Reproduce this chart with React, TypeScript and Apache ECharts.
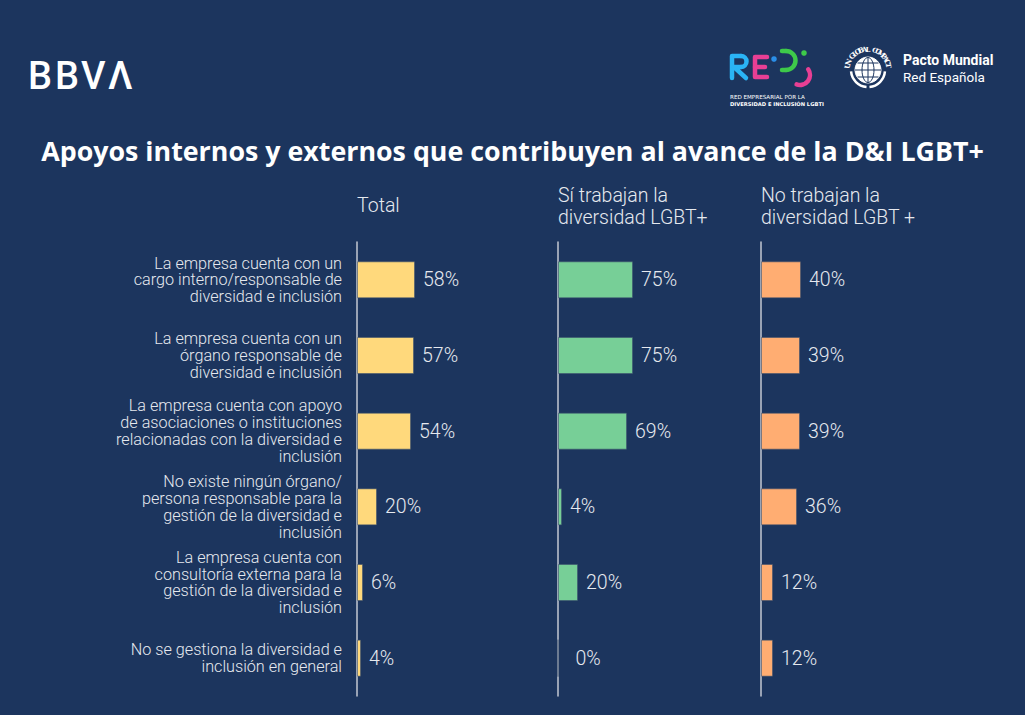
import React, { useEffect, useRef } from "react";
import * as echarts from "echarts";

const categories = [
  "La empresa cuenta con un\ncargo interno/responsable de\ndiversidad e inclusión",
  "La empresa cuenta con un\nórgano responsable de\ndiversidad e inclusión",
  "La empresa cuenta con apoyo\nde asociaciones o instituciones\nrelacionadas con la diversidad e\ninclusión",
  "No existe ningún órgano/\npersona responsable para la\ngestión de la diversidad e\ninclusión",
  "La empresa cuenta con\nconsultoría externa para la\ngestión de la diversidad e\ninclusión",
  "No se gestiona la diversidad e\ninclusión en general",
];
const totalValues = [58, 57, 54, 20, 6, 4];
const siValues = [75, 75, 69, 4, 20, 0];
const noValues = [40, 39, 39, 36, 12, 12];
const groupHeaders = ["Total", "Sí trabajan la\ndiversidad LGBT+", "No trabajan la\ndiversidad LGBT +"];
const chartTitle = "Apoyos internos y externos que contribuyen al avance de la D&I LGBT+";

const BG = "#1c355e";
const TEXT = "#e6e9ef";
const groupColors = ["#ffd97c", "#77cf97", "#ffad72"];
const groupLefts = [357, 558, 761];
const groupValues = [totalValues, siValues, noValues];
const FONT = "Roboto";

function unLogo() {
  const cx = 868;
  const cy = 70;
  const els: any[] = [];
  const txt = "UN GLOBAL COMPACT";
  const R = 21;
  const a0 = (-168 * Math.PI) / 180;
  const a1 = (-12 * Math.PI) / 180;
  for (let i = 0; i < txt.length; i++) {
    const ch = txt[i];
    if (ch === " ") continue;
    const t = a0 + ((a1 - a0) * i) / (txt.length - 1);
    els.push({
      type: "text",
      x: cx + R * Math.cos(t),
      y: cy + R * Math.sin(t),
      rotation: -(t + Math.PI / 2),
      style: {
        text: ch,
        fill: "#ffffff",
        fontSize: 7,
        fontWeight: "bold",
        fontFamily: "DejaVu Serif",
        textAlign: "center",
        textVerticalAlign: "middle",
      },
    });
  }
  els.push({ type: "circle", shape: { cx, cy, r: 13 }, style: { fill: "#ffffff", stroke: "#ffffff", lineWidth: 1 } });
  els.push({ type: "ellipse", shape: { cx, cy, rx: 6, ry: 12.5 }, style: { fill: "none", stroke: BG, lineWidth: 1 } });
  els.push({ type: "line", shape: { x1: cx, y1: cy - 12.5, x2: cx, y2: cy + 12.5 }, style: { stroke: BG, lineWidth: 1 } });
  els.push({ type: "line", shape: { x1: cx - 13, y1: cy, x2: cx + 13, y2: cy }, style: { stroke: BG, lineWidth: 1 } });
  els.push({ type: "line", shape: { x1: cx - 10.5, y1: cy - 7, x2: cx + 10.5, y2: cy - 7 }, style: { stroke: BG, lineWidth: 1 } });
  els.push({ type: "line", shape: { x1: cx - 10.5, y1: cy + 7, x2: cx + 10.5, y2: cy + 7 }, style: { stroke: BG, lineWidth: 1 } });
  els.push({
    type: "arc",
    shape: { cx, cy, r: 17, startAngle: (95 * Math.PI) / 180, endAngle: (175 * Math.PI) / 180, clockwise: true },
    style: { stroke: "#ffffff", lineWidth: 2.5, fill: "none" },
  });
  els.push({
    type: "arc",
    shape: { cx, cy, r: 17, startAngle: (5 * Math.PI) / 180, endAngle: (85 * Math.PI) / 180, clockwise: true },
    style: { stroke: "#ffffff", lineWidth: 2.5, fill: "none" },
  });
  els.push({
    type: "text",
    x: 903,
    y: 60,
    style: { text: "Pacto Mundial", fill: "#ffffff", fontSize: 14, fontWeight: "bold", fontFamily: FONT, textVerticalAlign: "middle" },
  });
  els.push({
    type: "text",
    x: 903,
    y: 77,
    style: { text: "Red Española", fill: "#ffffff", fontSize: 13.5, fontFamily: FONT, textVerticalAlign: "middle" },
  });
  return els;
}

function rediLogo() {
  const els: any[] = [];
  const cyan = "#2ab4f5";
  const pink = "#e83f94";
  const green = "#3ec94a";
  const st = (c: string) => ({ stroke: c, lineWidth: 4.5, fill: "none", lineCap: "round", lineJoin: "round" });
  els.push({ type: "polyline", shape: { points: [[732, 78], [732, 56], [741, 56]] }, style: st(cyan) });
  els.push({
    type: "arc",
    shape: { cx: 741, cy: 61.5, r: 5.5, startAngle: -Math.PI / 2, endAngle: Math.PI / 2, clockwise: true },
    style: st(cyan),
  });
  els.push({ type: "polyline", shape: { points: [[741, 67], [734, 67], [746, 78]] }, style: st(cyan) });
  els.push({ type: "polyline", shape: { points: [[767, 57], [755, 57], [755, 77], [767, 77]] }, style: st(pink) });
  els.push({ type: "line", shape: { x1: 755, y1: 67, x2: 765, y2: 67 }, style: st(pink) });
  els.push({ type: "circle", shape: { cx: 774, cy: 59, r: 2.8 }, style: { fill: "#2a8fe8" } });
  els.push({ type: "line", shape: { x1: 782, y1: 51, x2: 786, y2: 51 }, style: st(green) });
  els.push({
    type: "arc",
    shape: { cx: 786, cy: 60.5, r: 9.5, startAngle: -Math.PI / 2, endAngle: Math.PI / 2, clockwise: true },
    style: st(green),
  });
  els.push({ type: "line", shape: { x1: 786, y1: 70, x2: 782, y2: 70 }, style: st(green) });
  els.push({ type: "circle", shape: { cx: 804, cy: 53, r: 2.8 }, style: { fill: green } });
  els.push({
    type: "arc",
    shape: { cx: 800, cy: 75, r: 10, startAngle: (-35 * Math.PI) / 180, endAngle: (110 * Math.PI) / 180, clockwise: true },
    style: st(pink),
  });
  els.push({
    type: "text",
    x: 730,
    y: 97,
    style: { text: "RED EMPRESARIAL POR LA", fill: "#ffffff", fontSize: 5.6, fontFamily: "DejaVu Sans", textVerticalAlign: "middle" },
  });
  els.push({
    type: "text",
    x: 730,
    y: 104,
    style: { text: "DIVERSIDAD E INCLUSIÓN LGBTI", fill: "#ffffff", fontSize: 5.2, fontWeight: "bold", fontFamily: "DejaVu Sans", textVerticalAlign: "middle" },
  });
  return els;
}

function bbvaLogo() {
  const letters = ["B", "B", "V", "Λ"];
  const xs = [28, 55, 81, 108];
  return letters.map((t, i) => ({
    type: "text",
    x: xs[i],
    y: 76,
    style: { text: t, fill: "#ffffff", fontSize: 38, fontWeight: 500, fontFamily: FONT, textVerticalAlign: "middle" },
  }));
}

export default function App() {
  const ref = useRef<HTMLDivElement>(null);
  useEffect(() => {
    document.body.style.margin = "0";
    const chart = echarts.init(ref.current!, null, { renderer: "svg" });
    const grids = groupLefts.map((left) => ({ left, top: 242, width: 100, height: 454, containLabel: false }));
    const xAxes = groupLefts.map((_, i) => ({ type: "value", gridIndex: i, min: 0, max: 100, show: false }));
    const yAxes = groupLefts.map((_, i) => ({
      type: "category",
      gridIndex: i,
      data: categories,
      inverse: true,
      axisLine: { show: true, lineStyle: { color: "#c3c9d3", width: 1.5 } },
      axisTick: { show: false },
      splitLine: { show: false },
      axisLabel: {
        show: i === 0,
        color: TEXT,
        fontSize: 16.2,
        lineHeight: 16.8,
        fontWeight: 300,
        fontFamily: FONT,
        margin: 15,
        align: "right",
      },
    }));
    const series = groupValues.map((vals, i) => ({
      type: "bar",
      xAxisIndex: i,
      yAxisIndex: i,
      barWidth: 37,
      data: vals.map((v) => ({ value: v, label: v === 0 ? { distance: 17 } : undefined })),
      itemStyle: { color: groupColors[i], borderColor: "rgba(60,80,110,0.55)", borderWidth: 1 },
      label: {
        show: true,
        position: "right",
        distance: 8,
        formatter: "{c}%",
        color: TEXT,
        fontSize: 19.5,
        fontWeight: 300,
        fontFamily: FONT,
      },
    }));
    const titles: any[] = [
      {
        text: chartTitle,
        left: "center",
        top: 137,
        padding: 0,
        textStyle: { color: "#ffffff", fontSize: 26.8, fontWeight: "bold", fontFamily: "Open Sans" },
      },
      ...groupHeaders.map((h, i) => ({
        text: h,
        left: groupLefts[i],
        top: i === 0 ? 194 : 184,
        padding: 0,
        textStyle: { color: TEXT, fontSize: 19.5, fontWeight: 300, fontFamily: FONT, lineHeight: 22 },
      })),
    ];
    chart.setOption({
      animation: false,
      backgroundColor: BG,
      title: titles,
      grid: grids,
      xAxis: xAxes,
      yAxis: yAxes,
      series,
      graphic: [...bbvaLogo(), ...rediLogo(), ...unLogo()],
    });
    return () => chart.dispose();
  }, []);
  return <div ref={ref} style={{ width: 1025, height: 715 }} />;
}
